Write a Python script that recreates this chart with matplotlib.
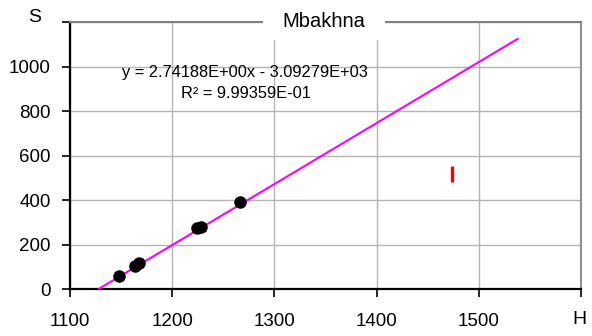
import matplotlib
matplotlib.use("Agg")
import matplotlib.pyplot as plt
from matplotlib.patches import Rectangle

plt.rcParams['font.family'] = ['Liberation Sans', 'DejaVu Sans']

# points mesures (H, S)
h_pts = [1148, 1163.5, 1167.5, 1224, 1228, 1266]
s_pts = [60, 105, 119, 272, 277, 389]

# droite de tendance (extremites)
trend_h = [1128, 1538]
trend_s = [0, 1124]

# repere rouge
red_h = [1473.5]
red_s = [519]

x_ticks = [1100, 1200, 1300, 1400, 1500, 1600]
x_labels = ['1100', '1200', '1300', '1400', '1500', '']
y_ticks = [0, 200, 400, 600, 800, 1000, 1200]
y_labels = ['0', '200', '400', '600', '800', '1000', '']

fig = plt.figure(figsize=(5.92, 3.36), dpi=100)
ax = fig.add_axes([70/592, 1 - 289/336, 511/592, 267/336])

ax.set_xlim(1100, 1600)
ax.set_ylim(0, 1200)
ax.set_xticks(x_ticks)
ax.set_xticklabels(x_labels)
ax.set_yticks(y_ticks)
ax.set_yticklabels(y_labels)
ax.tick_params(axis='both', labelsize=13.5, length=6, width=1.2, color='black')
ax.tick_params(axis='x', pad=11)
ax.tick_params(axis='y', pad=8)

ax.grid(True, color='#b4b4b4', linewidth=1.0)
ax.set_axisbelow(True)

for side in ['left', 'bottom']:
    ax.spines[side].set_color('black')
    ax.spines[side].set_linewidth(1.6)
ax.spines['top'].set_color('#808080')
ax.spines['top'].set_linewidth(1.5)
ax.spines['right'].set_color('#909090')
ax.spines['right'].set_linewidth(1.5)

ax.plot(trend_h, trend_s, color='#ff00ff', linewidth=1.5, zorder=3)
ax.plot(h_pts, s_pts, 'o', color='black', markersize=8, zorder=4)
ax.plot(red_h, red_s, '|', color='#ff0000', markersize=11, markeredgewidth=2.4, zorder=4)

# cadre du titre (coupe la bordure superieure)
ax.add_patch(Rectangle((193/511, 249/267), 122/511, 0.2, transform=ax.transAxes,
                       facecolor='white', edgecolor='none', clip_on=False, zorder=5))
ax.text(253.5/511, 262/267, 'Mbakhna', transform=ax.transAxes, ha='center',
        va='baseline', fontsize=14.5, zorder=6)

fig.text(245/592, 1 - 77/336, 'y = 2.74188E+00x - 3.09279E+03', ha='center',
         va='baseline', fontsize=11.8)
fig.text(246/592, 1 - 98/336, 'R² = 9.99359E-01', ha='center', va='baseline',
         fontsize=11.8)

fig.text(35/592, 1 - 18/336, 'S', ha='center', va='center', fontsize=14)
fig.text(579/592, 1 - 320/336, 'H', ha='center', va='center', fontsize=14)

fig.savefig('out.png', dpi=100)
